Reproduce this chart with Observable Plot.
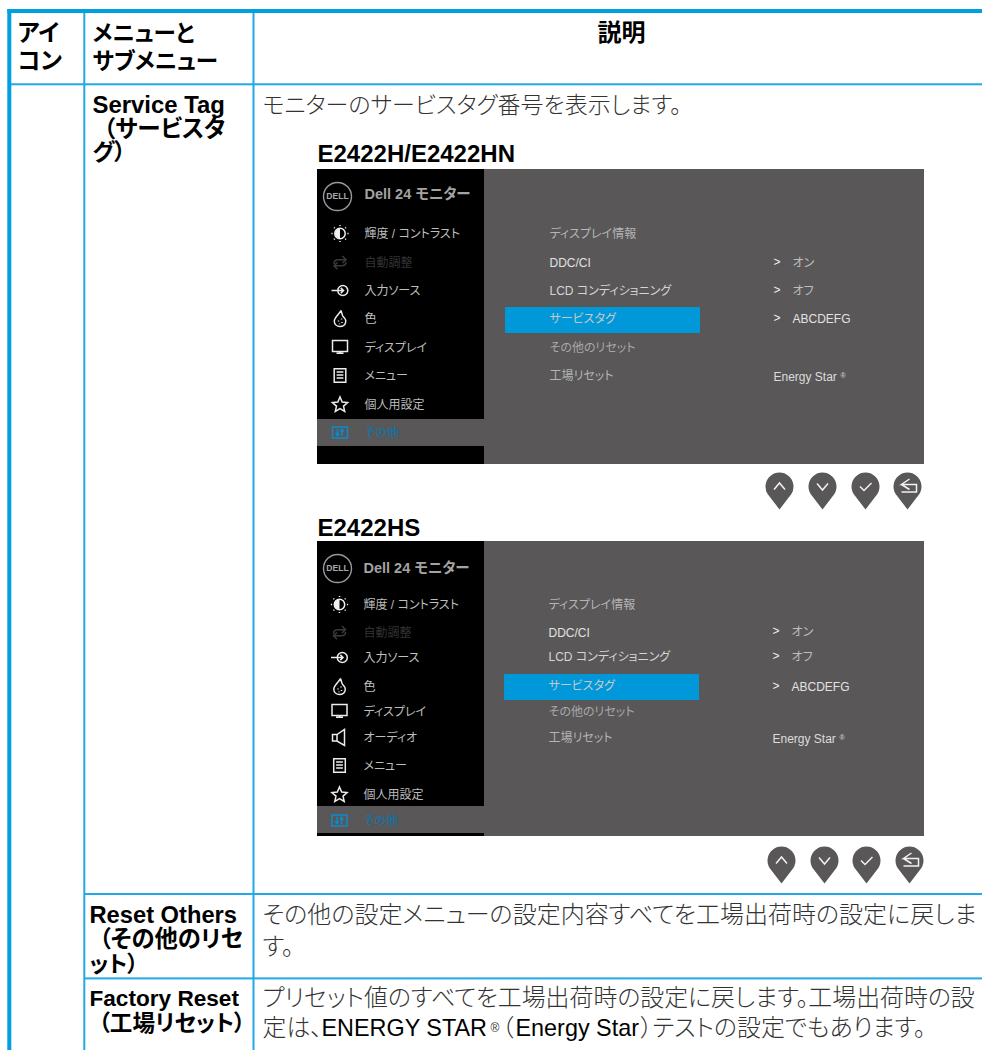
<!DOCTYPE html>
<html lang="ja">
<head>
<meta charset="utf-8">
<script src="https://cdn.jsdelivr.net/npm/d3@7"></script>
<script src="https://cdn.jsdelivr.net/npm/@observablehq/plot@0.6"></script>
<style>
html,body{margin:0;padding:0;background:#fff}
svg{display:block}
</style>
</head>
<body>
<div id="chart"></div>
<script>
// ---- text content ----
const headerIcon = ["アイ", "コン"];
const headerMenu = ["メニューと", "サブメニュー"];
const headerDesc = "説明";
const menuService = ["Service Tag", "（サービスタ", "グ）"];
const menuOthers = ["Reset Others", "（その他のリセ", "ット）"];
const menuFactory = ["Factory Reset", "（工場リセット）"];
const descService = "モニターのサービスタグ番号を表示します。";
const descOthers = ["その他の設定メニューの設定内容すべてを工場出荷時の設定に戻しま", "す。"];
const descFactory1 = "プリセット値のすべてを工場出荷時の設定に戻します。工場出荷時の設";
const descFactoryParts = ["定は、", "ENERGY STAR", "®", "（", "Energy Star", "）テストの設定でもあります。"];
const modelNames = ["E2422H/E2422HN", "E2422HS"];
const osdTitle = "Dell 24 モニター";
const osdMenuA = ["輝度 / コントラスト", "自動調整", "入力ソース", "色", "ディスプレイ", "メニュー", "個人用設定", "その他"];
const osdMenuB = ["輝度 / コントラスト", "自動調整", "入力ソース", "色", "ディスプレイ", "オーディオ", "メニュー", "個人用設定", "その他"];
const osdSub = ["ディスプレイ情報", "DDC/CI", "LCD コンディショニング", "サービスタグ", "その他のリセット", "工場リセット"];
const osdValues = ["オン", "オフ", "ABCDEFG"];
const osdEnergy = ["Energy Star", "®"];

// ---- page layout, in the picture's pixel space ----
const tableColumns = [84.3, 253.5];
const tableRows = [84.3, 894, 978.4];
const menuY = {service: [105, 129, 152], others: [915, 939, 964], factory: [998, 1023]};
const osdMenuYA = [233, 262, 290, 318, 347, 375, 404, 432];
const osdMenuYB = [604, 632, 657, 686, 711, 737, 765, 794, 820];
const osdSubYA = [233, 262, 290, 318, 347, 375];
const osdSubYB = [604, 632, 656, 685, 711, 737];
const osdValYA = [262, 290, 318];
const osdValYB = [631, 656, 686];
const pinXA = [779, 822, 865, 907];
const pinXB = [781, 824, 866, 909];

const BLUE = "#009fe0", LINE = "#22a8e5", PANEL = "#595758", HILITE = "#0098d9";
const subColors = ["#b5b5b5", "#e2e2e2", "#d5d5d5", "#c8c8c8", "#a8a8a8", "#b5b5b5"];
const menuColorsA = ["#bdbdbd", "#333", "#c0c0c0", "#c0c0c0", "#bdbdbd", "#bdbdbd", "#bdbdbd", "#0a76ad"];
const menuColorsB = ["#bdbdbd", "#333", "#c0c0c0", "#c0c0c0", "#bdbdbd", "#bdbdbd", "#bdbdbd", "#bdbdbd", "#0a76ad"];

const boxes = [
  {x1: 7.3, x2: 11.3, y1: 9, y2: 1050, c: BLUE},
  {x1: 7.3, x2: 982, y1: 9, y2: 13, c: BLUE},
  ...tableColumns.map(x => ({x1: x - 1, x2: x + 1, y1: 13, y2: 1050, c: LINE})),
  {x1: 11, x2: 982, y1: tableRows[0] - 1, y2: tableRows[0] + 1, c: LINE},
  {x1: 85, x2: 982, y1: tableRows[1] - 1, y2: tableRows[1] + 1, c: LINE},
  {x1: 85, x2: 982, y1: tableRows[2] - 1, y2: tableRows[2] + 1, c: LINE},
  {x1: 317, x2: 484, y1: 169, y2: 464, c: "#000"},
  {x1: 484, x2: 924, y1: 169, y2: 464, c: PANEL},
  {x1: 317, x2: 484, y1: 419, y2: 446, c: PANEL},
  {x1: 505, x2: 700, y1: 307, y2: 333, c: HILITE},
  {x1: 317, x2: 484, y1: 541, y2: 836, c: "#000"},
  {x1: 484, x2: 924, y1: 541, y2: 836, c: PANEL},
  {x1: 317, x2: 484, y1: 806, y2: 833, c: PANEL},
  {x1: 504, x2: 699, y1: 674, y2: 700, c: HILITE}
];

const T = (t, x, y, size, c) => ({t, x, y, size, c});
const boldRows = [
  ...headerIcon.map((t, i) => T(t, 17, [33, 61][i], 23.5, "#000")),
  ...headerMenu.map((t, i) => T(t, 92, [33, 61][i], 22.5, "#000")),
  T(headerDesc, 597, 33, 24, "#000"),
  T(menuService[0], 92, menuY.service[0], 23.9, "#000"),
  T(menuService[1], 103, menuY.service[1], 23.5, "#000"),
  T(menuService[2], 92, menuY.service[2], 23, "#000"),
  T(menuOthers[0], 89, menuY.others[0], 23.7, "#000"),
  T(menuOthers[1], 98.5, menuY.others[1], 23.3, "#000"),
  T(menuOthers[2], 89, menuY.others[2], 22.5, "#000"),
  T(menuFactory[0], 89, menuY.factory[0], 22.6, "#000"),
  T(menuFactory[1], 98, menuY.factory[1], 22.6, "#000"),
  T(modelNames[0], 317, 154, 24, "#000"),
  T(modelNames[1], 317, 528, 24, "#000"),
  T(osdTitle, 364, 194, 14.5, "#a3a3a3"),
  T(osdTitle, 363, 568, 14.5, "#a3a3a3")
];
const bodyRows = [
  T(descService, 262, 105, 23, "#333"),
  ...descOthers.map((t, i) => T(t, 262, [915, 947][i], 24, "#333")),
  T(descFactory1, 262, 998, 23.9, "#333"),
  ...descFactoryParts.map((t, i) => T(t, [262, 321, 490, 501, 515, 640][i], 1028, i === 2 ? 12 : i === 1 || i === 4 ? 23.4 : 23.9, (i === 1 || i === 4) ? "#000" : "#333"))
];
const osdRows = [
  ...osdMenuA.map((t, i) => T(t, 364, osdMenuYA[i] + 1, 12, menuColorsA[i])),
  ...osdMenuB.map((t, i) => T(t, 363, osdMenuYB[i] + 1, 12, menuColorsB[i])),
  ...osdSub.map((t, i) => T(t, 549, osdSubYA[i] + 1, 12, subColors[i])),
  ...osdSub.map((t, i) => T(t, 548, osdSubYB[i] + 1, 12, subColors[i])),
  ...osdValues.map((t, i) => T(t, 792, osdValYA[i] + 1, 12, i === 2 ? "#e2e2e2" : "#bdbdbd")),
  ...osdValues.map((t, i) => T(t, 791, osdValYB[i] + 1, 12, i === 2 ? "#e2e2e2" : "#bdbdbd")),
  T(osdEnergy[0], 773, 376.5, 12, "#dcdcdc"), T(osdEnergy[1], 840, 375, 7, "#dcdcdc"),
  T(osdEnergy[0], 772, 738.5, 12, "#dcdcdc"), T(osdEnergy[1], 839, 737, 7, "#dcdcdc"),
  ...osdValYA.map(y => T(">", 773, y, 12, "#f0f0f0")),
  ...osdValYB.map(y => T(">", 772, y, 12, "#f0f0f0"))
];

// ---- custom symbols (path drawn in pixels around the anchor) ----
const sym = draw => ({draw});
const rad = d => d * Math.PI / 180;
const pinBody = sym(c => { c.moveTo(0, 23); c.arc(0, 0, 14, rad(148), rad(392)); c.closePath(); });
const chevUp = sym(c => { c.moveTo(-5.5, 3); c.lineTo(0, -3.5); c.lineTo(5.5, 3); });
const chevDown = sym(c => { c.moveTo(-5.5, -3); c.lineTo(0, 3.5); c.lineTo(5.5, -3); });
const tick = sym(c => { c.moveTo(-5.5, 0); c.lineTo(-1.5, 4); c.lineTo(6, -3.5); });
const back = sym(c => { c.moveTo(2, -7.5); c.lineTo(-6, -2); c.lineTo(9, -2); c.lineTo(9, 5.5); c.lineTo(-6, 5.5); c.moveTo(-6, -2); c.lineTo(2, 3); });
const sunRing = sym(c => { c.arc(0, 0, 5.2, 0, 2 * Math.PI); for (let a = 0; a < 360; a += 45) { const u = Math.cos(rad(a)), v = Math.sin(rad(a)); c.moveTo(7.4 * u, 7.4 * v); c.lineTo(8.6 * u, 8.6 * v); } });
const sunHalf = sym(c => { c.arc(0, 0, 5, rad(90), rad(270)); c.closePath(); });
const autoIcon = sym(c => { c.moveTo(-6, 1.5); c.bezierCurveTo(-6, -1.5, -4, -2.8, -2, -2.8); c.lineTo(6, -2.8); c.moveTo(2.5, -6.5); c.lineTo(6, -2.8); c.lineTo(2.5, 0.5); c.moveTo(6, -0.5); c.bezierCurveTo(6, 2, 4, 3.2, 2, 3.2); c.lineTo(-6, 3.2); c.moveTo(-2.5, 0); c.lineTo(-6, 3.2); c.lineTo(-2.5, 6.8); });
const inputIcon = sym(c => { c.moveTo(7.8, 0); c.arc(2.8, 0, 5, 0, 2 * Math.PI); c.moveTo(-8.5, 0); c.lineTo(3.5, 0); c.moveTo(0.8, -2.6); c.lineTo(3.5, 0); c.lineTo(0.8, 2.6); });
const dropIcon = sym(c => { c.moveTo(1, -8); c.bezierCurveTo(-1, -4, -5.7, -1, -5.7, 2.5); c.bezierCurveTo(-5.7, 6, -3, 8, 0, 8); c.bezierCurveTo(3, 8, 5.8, 6, 5.8, 2.5); c.bezierCurveTo(5.8, 0, 3.5, -1, 2.8, -2.5); c.bezierCurveTo(2.2, -4, 1.6, -6, 1, -8); c.moveTo(-1.5, 2); c.lineTo(-1.5, 3); c.moveTo(1.5, 0); c.lineTo(1.5, 1); c.moveTo(2, 3.5); c.lineTo(2, 4.5); c.moveTo(-0.5, 5); c.lineTo(-0.5, 5.8); });
const displayIcon = sym(c => { c.rect(-7.5, -7, 15, 11); c.moveTo(0, 4); c.lineTo(0, 5.7); c.moveTo(-3.5, 5.7); c.lineTo(3.5, 5.7); });
const menuIcon = sym(c => { c.rect(-5.8, -6.7, 11.6, 13.4); c.moveTo(-3.4, -3.4); c.lineTo(3.4, -3.4); c.moveTo(-3.4, -0.4); c.lineTo(3.4, -0.4); c.moveTo(-3.4, 2.6); c.lineTo(3.4, 2.6); });
const starIcon = sym(c => { for (let i = 0; i < 10; i++) { const r = i % 2 ? 3.7 : 8, a = rad(-90 + i * 36); const x = r * Math.cos(a), y = r * Math.sin(a) + 0.5; i ? c.lineTo(x, y) : c.moveTo(x, y); } c.closePath(); });
const otherIcon = sym(c => { c.rect(-7.5, -5.5, 15, 11); c.moveTo(-2.5, -3.5); c.lineTo(-2.5, 3); c.moveTo(-4.2, 0.8); c.lineTo(-2.5, 3.2); c.lineTo(-0.8, 0.8); c.moveTo(2, -3.2); c.lineTo(2, 3.5); c.moveTo(0.3, -0.8); c.lineTo(2, -3.2); c.lineTo(3.7, -0.8); });
const audioIcon = sym(c => { c.moveTo(-7, -3); c.lineTo(-2.5, -3); c.lineTo(5, -8); c.lineTo(5, 8); c.lineTo(-2.5, 3.5); c.lineTo(-7, 3.5); c.closePath(); c.moveTo(-2.5, -3); c.lineTo(-2.5, 3.5); });

const iconRow = (list, ys, x) => list.map((s, i) => ({s, x, y: ys[i]}));
const iconsA = iconRow(["sun", "auto", "input", "drop", "display", "menu", "star", "other"], osdMenuYA, 339.5);
const iconsB = iconRow(["sun", "auto", "input", "drop", "display", "audio", "menu", "star", "other"], osdMenuYB, 339);
const icons = [...iconsA, ...iconsB];
const iconMark = (key, symbol, stroke = "#ececec") =>
  Plot.dot(icons.filter(d => d.s === key), {x: "x", y: "y", r: 1, symbol, stroke, fill: "none", strokeWidth: 1.5});

const pins = [...pinXA.map(x => ({x, y: 486})), ...pinXB.map(x => ({x, y: 860}))];
const pinGlyph = (i, symbol) =>
  Plot.dot([pins[i], pins[i + 4]], {x: "x", y: "y", r: 1, symbol, stroke: "#f2f2f2", fill: "none", strokeWidth: 1.5});
const logos = [{x: 337, y: 196}, {x: 337, y: 568}];

const fontFamily = '"Liberation Sans","Noto Sans CJK JP",sans-serif';
const chart = Plot.plot({
  width: 982, height: 1050,
  marginTop: 0, marginRight: 0, marginBottom: 0, marginLeft: 0,
  x: {type: "linear", domain: [0, 982], range: [0, 982], axis: null},
  y: {type: "linear", domain: [0, 1050], range: [0, 1050], axis: null},
  color: {type: "identity"},
  style: {background: "#fff", fontFeatureSettings: '"palt"', overflow: "hidden"},
  marks: [
    Plot.rect(boxes, {x1: "x1", x2: "x2", y1: "y1", y2: "y2", fill: "c"}),
    Plot.dot(pins, {x: "x", y: "y", r: 1, symbol: pinBody, fill: PANEL}),
    pinGlyph(0, chevUp), pinGlyph(1, chevDown), pinGlyph(2, tick), pinGlyph(3, back),
    Plot.dot(logos, {x: "x", y: "y", r: 14, stroke: "#9a9a9a", strokeWidth: 1.4, fill: "none"}),
    Plot.text(logos, {x: "x", y: "y", text: () => "DELL", fontSize: 8.6, fontWeight: 700, fill: "#a8a8a8", fontFamily}),
    iconMark("sun", sunRing, "#f0f0f0"),
    Plot.dot(icons.filter(d => d.s === "sun"), {x: "x", y: "y", r: 1, symbol: sunHalf, fill: "#f0f0f0"}),
    iconMark("auto", autoIcon, "#3a3a3a"),
    iconMark("input", inputIcon), iconMark("drop", dropIcon), iconMark("display", displayIcon),
    iconMark("menu", menuIcon), iconMark("star", starIcon), iconMark("audio", audioIcon),
    iconMark("other", otherIcon, "#0a8ccc"),
    Plot.text(boldRows, {x: "x", y: "y", text: "t", fontSize: "size", fill: "c", fontWeight: 700, textAnchor: "start", fontFamily}),
    Plot.text(bodyRows, {x: "x", y: "y", text: "t", fontSize: "size", fill: "c", fontWeight: 300, textAnchor: "start", fontFamily}),
    Plot.text(osdRows, {x: "x", y: "y", text: "t", fontSize: "size", fill: "c", fontWeight: 400, textAnchor: "start", fontFamily})
  ]
});
document.getElementById("chart").append(chart);
</script>
</body>
</html>
